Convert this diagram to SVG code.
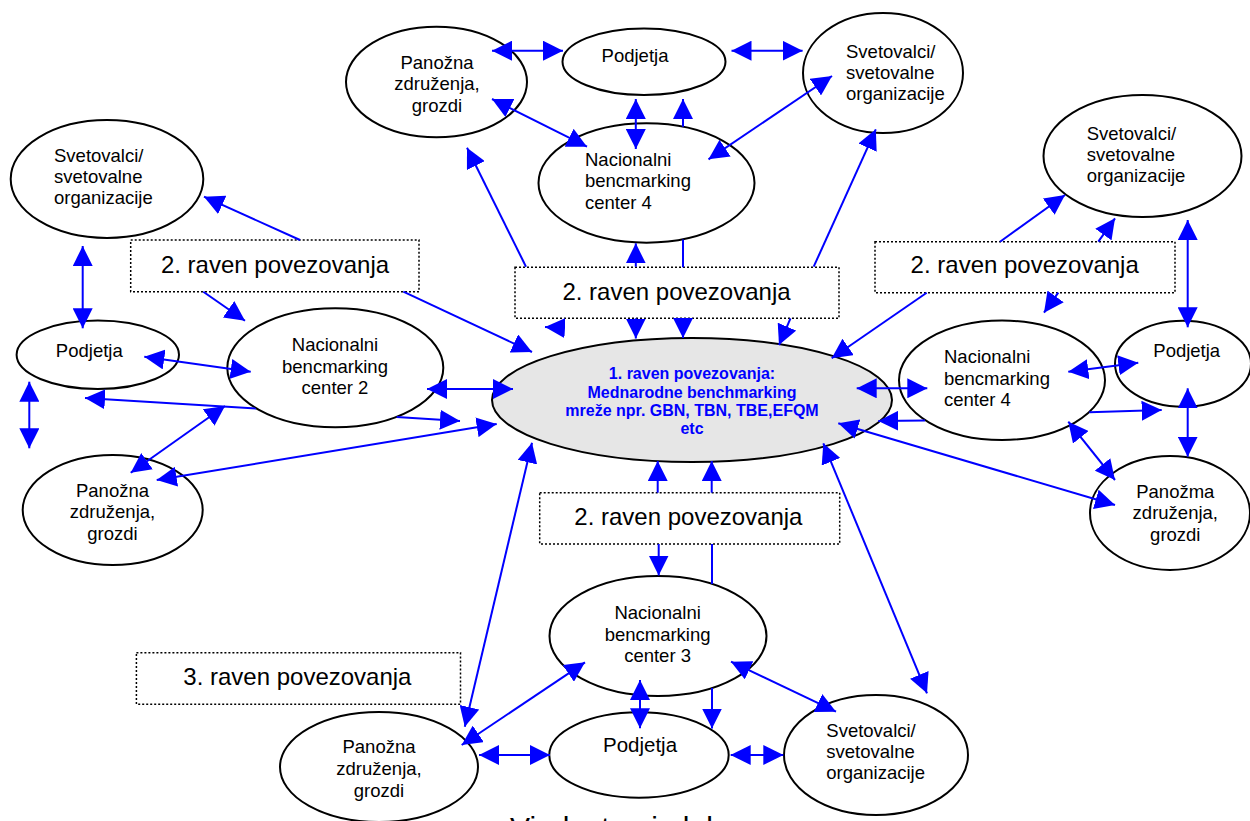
<svg xmlns="http://www.w3.org/2000/svg" width="1250" height="821" viewBox="0 0 1250 821">
  <defs>
    <marker id="ah" markerUnits="userSpaceOnUse" markerWidth="20" markerHeight="20" refX="20" refY="10" orient="auto-start-reverse">
      <path d="M0,0 L20,10 L0,20 Z" fill="#0000ff"/>
    </marker>
  </defs>
  <style>
    .node ellipse { fill: #ffffff; stroke: #000000; stroke-width: 2; }
    .node ellipse.core { fill: #e6e6e6; }
    .box rect { fill: #ffffff; stroke: #000000; stroke-width: 1.5; stroke-dasharray: 2 2; }
    text { font-family: "Liberation Sans", Arial, sans-serif; font-size: 18.5px; fill: #000000; }
    .c { text-anchor: middle; }
    .lvl { font-size: 24px; text-anchor: middle; }
    .core-t { font-size: 16px; font-weight: bold; fill: #0000ff; text-anchor: middle; }
    .link { stroke: #0000ff; stroke-width: 2; fill: none; }
    .one { marker-end: url(#ah); }
    .two { marker-start: url(#ah); marker-end: url(#ah); }
  </style>
  <rect width="1250" height="821" fill="#ffffff"/>

  <!-- nodes -->
  <g id="panozna-top" class="node">
    <ellipse cx="436.5" cy="82" rx="90.5" ry="55.3"/>
    <text class="c" x="437" y="68.5">Panožna</text>
    <text class="c" x="437" y="90">združenja,</text>
    <text class="c" x="437" y="111.5">grozdi</text>
  </g>
  <g id="podjetja-top" class="node">
    <ellipse cx="644" cy="61.7" rx="81.5" ry="33.3"/>
    <text class="c" x="635" y="62">Podjetja</text>
  </g>
  <g id="svetovalci-top" class="node">
    <ellipse cx="883" cy="73" rx="80" ry="60"/>
    <text x="846" y="57.5">Svetovalci/</text>
    <text x="846" y="78.5">svetovalne</text>
    <text x="846" y="99.5">organizacije</text>
  </g>
  <g id="nacionalni-top" class="node">
    <ellipse cx="646.5" cy="183" rx="108" ry="59.7"/>
    <text x="585" y="166">Nacionalni</text>
    <text x="585" y="187">bencmarking</text>
    <text x="585" y="208.5">center 4</text>
  </g>

  <g id="svetovalci-left" class="node">
    <ellipse cx="107" cy="179" rx="96.3" ry="59"/>
    <text x="54" y="161.7">Svetovalci/</text>
    <text x="54" y="183">svetovalne</text>
    <text x="54" y="204.3">organizacije</text>
  </g>
  <g id="podjetja-left" class="node">
    <ellipse cx="97.8" cy="354.8" rx="81.2" ry="34.2"/>
    <text class="c" x="89.3" y="356.7">Podjetja</text>
  </g>
  <g id="nacionalni-left" class="node">
    <ellipse cx="335.3" cy="367.8" rx="108" ry="59.5"/>
    <text class="c" x="335" y="351">Nacionalni</text>
    <text class="c" x="335" y="372.5">bencmarking</text>
    <text class="c" x="335" y="394">center 2</text>
  </g>
  <g id="panozna-left" class="node">
    <ellipse cx="112.7" cy="510" rx="90" ry="55"/>
    <text class="c" x="112.5" y="496.7">Panožna</text>
    <text class="c" x="112.5" y="518.3">združenja,</text>
    <text class="c" x="112.5" y="539.5">grozdi</text>
  </g>

  <g id="mednarodne-mreze" class="node">
    <ellipse class="core" cx="692" cy="400" rx="200" ry="62"/>
    <text class="core-t" x="692" y="379">1. raven povezovanja:</text>
    <text class="core-t" x="692" y="397.5">Mednarodne benchmarking</text>
    <text class="core-t" x="692" y="416">mreže npr. GBN, TBN, TBE,EFQM</text>
    <text class="core-t" x="692" y="434">etc</text>
  </g>

  <g id="svetovalci-right" class="node">
    <ellipse cx="1142.5" cy="156" rx="99" ry="61"/>
    <text x="1086.7" y="140">Svetovalci/</text>
    <text x="1086.7" y="160.7">svetovalne</text>
    <text x="1086.7" y="181.7">organizacije</text>
  </g>
  <g id="podjetja-right" class="node">
    <ellipse cx="1183" cy="363.7" rx="68" ry="43"/>
    <text x="1153.3" y="357.3">Podjetja</text>
  </g>
  <g id="nacionalni-right" class="node">
    <ellipse cx="1002" cy="380.3" rx="103" ry="59.7"/>
    <text x="944" y="362.7">Nacionalni</text>
    <text x="944" y="384.5">bencmarking</text>
    <text x="944" y="405.7">center 4</text>
  </g>
  <g id="panozma-right" class="node">
    <ellipse cx="1170" cy="513" rx="80" ry="57"/>
    <text class="c" x="1175.3" y="498.3">Panožma</text>
    <text class="c" x="1175.3" y="519.3">združenja,</text>
    <text class="c" x="1175.3" y="540.7">grozdi</text>
  </g>

  <g id="nacionalni-bottom" class="node">
    <ellipse cx="658" cy="636" rx="108.5" ry="60"/>
    <text class="c" x="657.6" y="619.3">Nacionalni</text>
    <text class="c" x="657.6" y="640.5">bencmarking</text>
    <text class="c" x="657.6" y="661.7">center 3</text>
  </g>
  <g id="podjetja-bottom" class="node">
    <ellipse cx="639" cy="755" rx="89.7" ry="42.7"/>
    <text class="c" x="640" y="752" style="font-size:20.5px">Podjetja</text>
  </g>
  <g id="panozna-bottom" class="node">
    <ellipse cx="379" cy="767" rx="99" ry="55"/>
    <text class="c" x="379" y="753.3">Panožna</text>
    <text class="c" x="379" y="775">združenja,</text>
    <text class="c" x="379" y="796.7">grozdi</text>
  </g>
  <g id="svetovalci-bottom" class="node">
    <ellipse cx="876" cy="755" rx="92" ry="60"/>
    <text x="826.3" y="737.3">Svetovalci/</text>
    <text x="826.3" y="758.3">svetovalne</text>
    <text x="826.3" y="779.3">organizacije</text>
  </g>

  <!-- level labels -->
  <g id="raven2-left" class="box">
    <rect x="130.7" y="240" width="288.3" height="51.7"/>
    <text class="lvl" x="275" y="272.7">2. raven povezovanja</text>
  </g>
  <g id="raven2-top" class="box">
    <rect x="515" y="267.3" width="324" height="51"/>
    <text class="lvl" x="676.5" y="300">2. raven povezovanja</text>
  </g>
  <g id="raven2-right" class="box">
    <rect x="875" y="241.7" width="300" height="51"/>
    <text class="lvl" x="1024.7" y="273.3">2. raven povezovanja</text>
  </g>
  <g id="raven2-bottom" class="box">
    <rect x="539.7" y="492.7" width="300" height="51.3"/>
    <text class="lvl" x="688.4" y="525">2. raven povezovanja</text>
  </g>
  <g id="raven3" class="box">
    <rect x="136.4" y="652.7" width="324.1" height="51.6"/>
    <text class="lvl" x="297.4" y="685">3. raven povezovanja</text>
  </g>

  <!-- connectors -->
  <g id="connectors">
    <!-- top cluster -->
    <path class="link two" d="M492,50.7 L563,50.7"/>
    <path class="link two" d="M731.5,50.7 L802.6,50.7"/>
    <path class="link two" d="M492,99 L587,146.7"/>
    <path class="link two" d="M635.8,99 L635.8,149"/>
    <path class="link one" d="M683,126.8 L683,99"/>
    <path class="link two" d="M832,76 L708.5,159.3"/>
    <path class="link one" d="M526,266.7 L467,147.7"/>
    <path class="link one" d="M813.7,266.7 L875.8,129.3"/>
    <path class="link one" d="M635.8,266.7 L635.8,243.3"/>
    <path class="link" d="M683,239.5 L683,267.3"/>

    <!-- around the central network -->
    <path class="link one" d="M635.8,318.3 L635.8,338.5"/>
    <path class="link one" d="M683,318.3 L683,338"/>
    <path class="link one" d="M563,328 L545,327"/>
    <path class="link one" d="M790.5,318.3 L779,345"/>
    <path class="link one" d="M403.3,291.7 L532,352"/>
    <path class="link one" d="M926.7,292.7 L831.7,358.3"/>
    <path class="link two" d="M427,389 L513,389"/>
    <path class="link" d="M85,398 L256,408.5" marker-start="url(#ah)"/>
    <path class="link one" d="M396.7,417.1 L460,421"/>
    <path class="link two" d="M156.7,480 L496.7,424"/>
    <path class="link two" d="M225,406 L130.7,472.7"/>
    <path class="link two" d="M856.7,388.3 L927.3,388.3"/>
    <path class="link one" d="M925,420.5 L878.3,421"/>
    <path class="link two" d="M838.3,423.3 L1115,505"/>
    <path class="link two" d="M532,442.7 L464.8,726.7"/>
    <path class="link two" d="M823.3,443.3 L927,693.3"/>
    <path class="link one" d="M657.7,492.7 L657.7,461"/>
    <path class="link one" d="M711.7,492.7 L711.7,461"/>
    <path class="link one" d="M658.7,544 L658.7,575.5"/>
    <path class="link" d="M712,544 L712,584"/>
    <path class="link one" d="M712,688 L712,728.5"/>

    <!-- left cluster -->
    <path class="link one" d="M300,240 L204,196.7"/>
    <path class="link two" d="M82.7,246 L82.7,328.3"/>
    <path class="link one" d="M203.3,291.7 L245,320.7"/>
    <path class="link two" d="M144.3,356.7 L250.7,371.7"/>
    <path class="link two" d="M29.3,381.7 L29.3,448.3"/>

    <!-- right cluster -->
    <path class="link one" d="M1000,241.7 L1065,195"/>
    <path class="link one" d="M1098.3,241.7 L1115,218.3"/>
    <path class="link one" d="M1058.3,292.7 L1044,312.7"/>
    <path class="link two" d="M1187.7,220 L1187.7,327.3"/>
    <path class="link two" d="M1068.3,371.7 L1138.3,362.7"/>
    <path class="link one" d="M1089.3,412.3 L1161.7,410"/>
    <path class="link two" d="M1187.7,388.3 L1187.7,456.7"/>
    <path class="link two" d="M1068.3,421.7 L1115,480"/>

    <!-- bottom cluster -->
    <path class="link two" d="M479,755 L550,755"/>
    <path class="link two" d="M730.7,755 L783.3,755"/>
    <path class="link two" d="M640,680 L640,728.3"/>
    <path class="link two" d="M585,662.3 L461.7,745"/>
    <path class="link two" d="M731,661.7 L836,711.7"/>
  </g>

  <!-- source line at the foot of the figure -->
  <text x="510" y="837.5" style="font-size:30px">Vir: lastna izdelava</text>
</svg>
